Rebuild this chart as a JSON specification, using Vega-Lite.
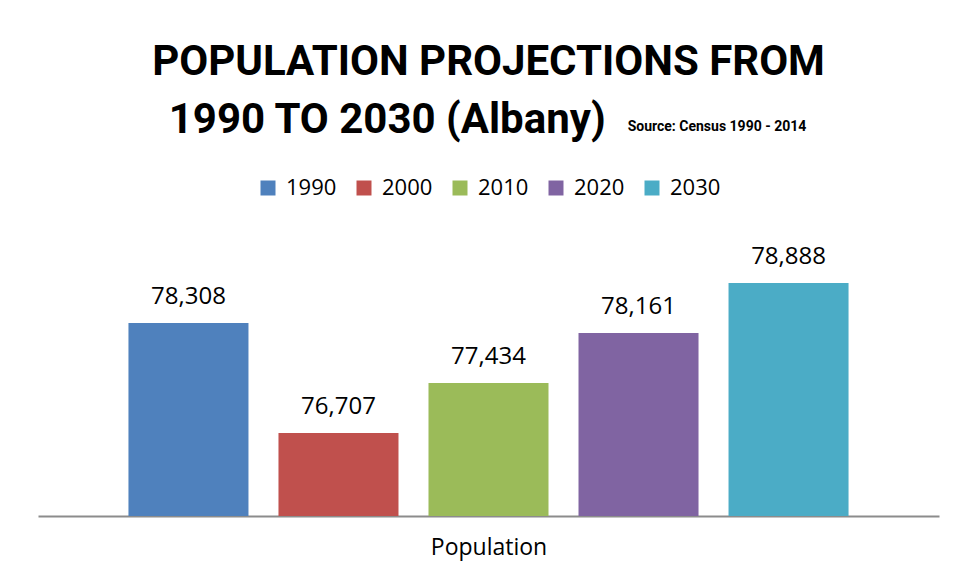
{
  "$schema": "https://vega.github.io/schema/vega-lite/v6.json",
  "width": 901,
  "height": 275,
  "autosize": {"type": "none"},
  "padding": {"left": 38, "top": 241, "right": 17, "bottom": 59},
  "background": "white",
  "title": {
    "text": ["POPULATION PROJECTIONS FROM", "1990 TO 2030 (Albany)\u2003\u2003\u2003\u2003\u00a0\u00a0\u00a0\u200b"],
    "subtitle": "\u200b\u2003\u2003\u2003\u2003\u2003\u2003\u2003\u2003\u2003\u2003\u2003\u2003\u2003\u2003\u2003\u2003\u2003\u2003\u2003\u2003\u2003\u2003\u2003\u2003\u2003\u2003\u2003\u2003\u2003\u2003\u2003\u2003Source: Census 1990 - 2014",
    "anchor": "middle",
    "font": "Roboto",
    "fontSize": 42,
    "fontWeight": "bold",
    "color": "#000000",
    "lineHeight": 58,
    "subtitleFont": "Roboto",
    "subtitleFontSize": 14,
    "subtitleFontWeight": "bold",
    "subtitleColor": "#000000",
    "subtitlePadding": -22,
    "offset": 35
  },
  "data": {
    "values": [
      {"year": "1990", "population": 78308},
      {"year": "2000", "population": 76707},
      {"year": "2010", "population": 77434},
      {"year": "2020", "population": 78161},
      {"year": "2030", "population": 78888}
    ]
  },
  "encoding": {
    "x": {
      "field": "year",
      "type": "nominal",
      "scale": {"paddingInner": 0.2, "paddingOuter": 0.603},
      "axis": {
        "title": "Population",
        "labels": false,
        "ticks": false,
        "domainColor": "#8c8c8c",
        "domainWidth": 2,
        "titleFont": "Open Sans",
        "titleFontSize": 23,
        "titleFontWeight": "normal",
        "titleColor": "#000000",
        "titlePadding": 20
      }
    },
    "y": {
      "field": "population",
      "type": "quantitative",
      "scale": {"domain": [75500, 79500], "zero": false, "nice": false},
      "axis": null
    }
  },
  "layer": [
    {
      "mark": {"type": "bar", "clip": true},
      "encoding": {
        "color": {
          "field": "year",
          "type": "nominal",
          "scale": {
            "domain": ["1990", "2000", "2010", "2020", "2030"],
            "range": ["#4F81BD", "#C0504D", "#9BBB59", "#8064A2", "#4BACC6"]
          },
          "legend": {
            "title": null,
            "orient": "top",
            "direction": "horizontal",
            "symbolType": "square",
            "symbolSize": 225,
            "symbolStrokeWidth": 0,
            "symbolOpacity": 1,
            "labelFont": "Open Sans",
            "labelFontSize": 22,
            "labelColor": "#000000",
            "labelOffset": 7,
            "columnPadding": 16,
            "offset": 42
          }
        }
      }
    },
    {
      "mark": {"type": "text", "font": "Open Sans", "fontSize": 24, "color": "#000000", "baseline": "alphabetic", "dy": -19},
      "encoding": {
        "text": {"field": "population", "type": "quantitative", "format": ","}
      }
    }
  ],
  "config": {
    "view": {"stroke": null},
    "legend": {"layout": {"top": {"anchor": "middle"}}}
  }
}
